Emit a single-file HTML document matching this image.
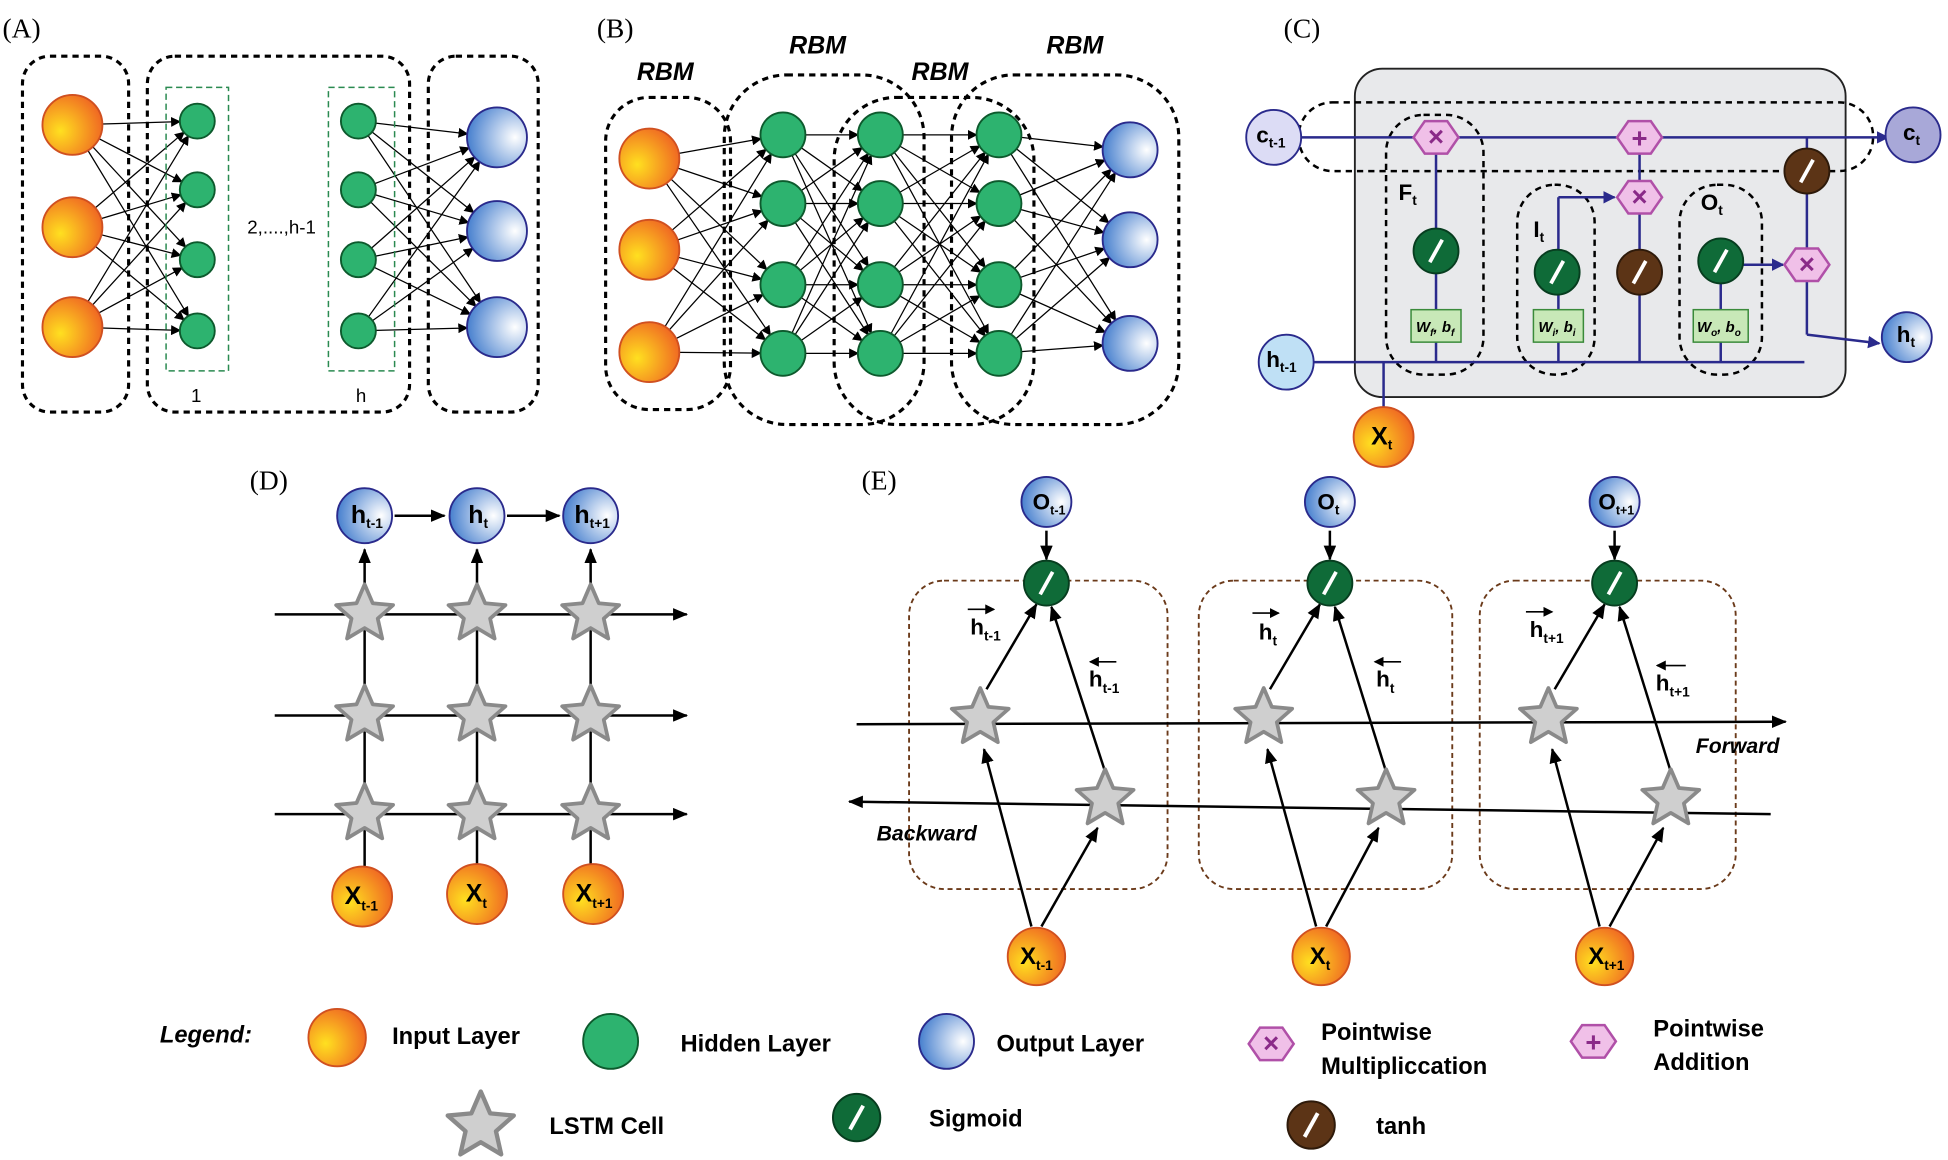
<!DOCTYPE html>
<html><head><meta charset="utf-8"><style>
html,body{margin:0;padding:0;background:#fff;}
svg{display:block;}
text{font-family:"Liberation Sans",sans-serif;}
.serif{font-family:"Liberation Serif",serif;font-size:22px;}
</style></head><body>
<svg id="s" width="1948" height="1160" viewBox="0 0 1560 929" preserveAspectRatio="none" xmlns="http://www.w3.org/2000/svg">
<defs>
<radialGradient id="gi" cx="0.3" cy="0.6" r="0.8"><stop offset="0" stop-color="#ffe020"/><stop offset="1" stop-color="#ee5a22"/></radialGradient>
<radialGradient id="go" cx="0.8" cy="0.5" r="0.9"><stop offset="0" stop-color="#ffffff"/><stop offset="1" stop-color="#2f6fc8"/></radialGradient>
<marker id="ar" markerWidth="8" markerHeight="8" refX="7" refY="4" orient="auto" markerUnits="userSpaceOnUse"><path d="M0,0 L8,4 L0,8 z" fill="#000"/></marker>
<marker id="ab" markerWidth="10" markerHeight="10" refX="9" refY="5" orient="auto" markerUnits="userSpaceOnUse"><path d="M0,0 L10,5 L0,10 z" fill="#2a2a8c"/></marker>
<marker id="ak" markerWidth="12" markerHeight="10" refX="11" refY="5" orient="auto" markerUnits="userSpaceOnUse"><path d="M0,0 L12,5 L0,10 z" fill="#000"/></marker>
<symbol id="star" viewBox="-25 -25 50 50" overflow="visible"><polygon points="0,-24 6.5,-8.9 22.8,-7.4 10.5,3.4 14.1,19.4 0,11 -14.1,19.4 -10.5,3.4 -22.8,-7.4 -6.5,-8.9" fill="#cfcfcf" stroke="#8a8a8a" stroke-width="3" stroke-linejoin="round"/></symbol>
<symbol id="sig" viewBox="-19 -19 38 38" overflow="visible"><circle r="18" fill="#0f6b38" stroke="#073d1f" stroke-width="1.5"/><line x1="-5" y1="9" x2="5" y2="-9" stroke="#fff" stroke-width="3"/></symbol>
<symbol id="tanh" viewBox="-19 -19 38 38" overflow="visible"><circle r="18" fill="#5c3416" stroke="#2e1a0a" stroke-width="1.5"/><line x1="-5" y1="9" x2="5" y2="-9" stroke="#fff" stroke-width="3"/></symbol>
<symbol id="mul" viewBox="-20 -14 40 28" overflow="visible"><polygon points="-18,0 -9,-13 9,-13 18,0 9,13 -9,13" fill="#f0c0e8" stroke="#b050a8" stroke-width="2"/><text x="0" y="7" text-anchor="middle" font-size="22" font-weight="bold" fill="#8a2a88">×</text></symbol>
<symbol id="add" viewBox="-20 -14 40 28" overflow="visible"><polygon points="-18,0 -9,-13 9,-13 18,0 9,13 -9,13" fill="#f0c0e8" stroke="#b050a8" stroke-width="2"/><text x="0" y="8" text-anchor="middle" font-size="22" font-weight="bold" fill="#8a2a88">+</text></symbol>
</defs>
<g id="lines" stroke="#000" stroke-width="1" fill="none"></g>

<text class="serif" x="2" y="30">(A)</text>
<g fill="none" stroke="#000" stroke-width="2.5" stroke-dasharray="5,4">
<rect x="18" y="45" width="85" height="285" rx="22"/>
<rect x="118" y="45" width="210" height="285" rx="22"/>
<rect x="343" y="45" width="88" height="285" rx="22"/>
</g>
<g fill="none" stroke="#2a8a50" stroke-width="1.2" stroke-dasharray="5,3">
<rect x="133" y="70" width="50" height="227"/>
<rect x="263" y="70" width="53" height="227"/>
</g>
<text x="198" y="187" font-size="15">2,....,h-1</text>
<text x="153" y="322" font-size="15">1</text>
<text x="285" y="322" font-size="15">h</text>

<text class="serif" x="478" y="30">(B)</text>
<g fill="none" stroke="#000" stroke-width="2.5" stroke-dasharray="5,4">
<rect x="485" y="78" width="100" height="250" rx="35"/>
<rect x="580" y="60" width="160" height="280" rx="50"/>
<rect x="668" y="78" width="160" height="262" rx="50"/>
<rect x="762" y="60" width="182" height="280" rx="50"/>
</g>
<g font-size="20" font-weight="bold" font-style="italic">
<text x="510" y="64">RBM</text><text x="632" y="43">RBM</text><text x="730" y="64">RBM</text><text x="838" y="43">RBM</text>
</g>

<text class="serif" x="1028" y="30">(C)</text>
<rect x="1085" y="55" width="393" height="263" rx="22" fill="#e8e9eb" stroke="#222" stroke-width="1.5"/>
<g fill="none" stroke="#000" stroke-width="2" stroke-dasharray="5,4">
<rect x="1040" y="82" width="460" height="55" rx="27"/>
<rect x="1110" y="92" width="78" height="208" rx="30"/>
<rect x="1215" y="148" width="62" height="152" rx="30"/>
<rect x="1345" y="148" width="66" height="152" rx="30"/>
</g>
<g stroke="#2a2a8c" stroke-width="2" fill="none">
<line x1="1042" y1="110" x2="1512" y2="110" marker-end="url(#ab)"/>
<line x1="1052" y1="290" x2="1445" y2="290"/>
<line x1="1108" y1="327" x2="1108" y2="290"/>
<line x1="1150" y1="290" x2="1150" y2="110"/>
<line x1="1248" y1="290" x2="1248" y2="158"/><line x1="1248" y1="158" x2="1293" y2="158" marker-end="url(#ab)"/>
<line x1="1313" y1="290" x2="1313" y2="110"/>
<line x1="1378" y1="290" x2="1378" y2="212"/><line x1="1378" y1="212" x2="1428" y2="212" marker-end="url(#ab)"/>
<line x1="1447" y1="110" x2="1447" y2="268"/><line x1="1447" y1="268" x2="1505" y2="275" marker-end="url(#ab)"/>
</g>
<use href="#mul" x="1130" y="96" width="40" height="28"/>
<use href="#add" x="1293" y="96" width="40" height="28"/>
<use href="#mul" x="1293" y="144" width="40" height="28"/>
<use href="#mul" x="1427" y="198" width="40" height="28"/>
<use href="#sig" x="1131" y="182" width="38" height="38"/>
<use href="#sig" x="1228" y="199" width="38" height="38"/>
<use href="#tanh" x="1294" y="199" width="38" height="38"/>
<use href="#sig" x="1359" y="190" width="38" height="38"/>
<use href="#tanh" x="1428" y="118" width="38" height="38"/>
<g fill="#c8e8b8" stroke="#3a8a3a" stroke-width="1.2">
<rect x="1130" y="248" width="40" height="26"/><rect x="1228" y="248" width="40" height="26"/><rect x="1356" y="248" width="44" height="26"/>
</g>
<g font-size="12" font-weight="bold" font-style="italic">
<text x="1134" y="266">W<tspan font-size="8" dy="3">f</tspan><tspan dy="-3">, b</tspan><tspan font-size="8" dy="3">f</tspan></text>
<text x="1232" y="266">W<tspan font-size="8" dy="3">i</tspan><tspan dy="-3">, b</tspan><tspan font-size="8" dy="3">i</tspan></text>
<text x="1359" y="266">W<tspan font-size="8" dy="3">o</tspan><tspan dy="-3">, b</tspan><tspan font-size="8" dy="3">o</tspan></text>
</g>
<g font-size="18" font-weight="bold">
<text x="1120" y="160">F<tspan font-size="11" dy="4">t</tspan></text>
<text x="1228" y="190">I<tspan font-size="11" dy="4">t</tspan></text>
<text x="1362" y="168">O<tspan font-size="11" dy="4">t</tspan></text>
</g>
<circle cx="1020" cy="110" r="22" fill="#dcdcf5" stroke="#2a2a8c" stroke-width="1.5"/>
<text x="1006" y="114" font-size="18" font-weight="bold">c<tspan font-size="11" dy="4">t-1</tspan></text>
<circle cx="1532" cy="108" r="22" fill="#a8a8d8" stroke="#2a2a8c" stroke-width="1.5"/>
<text x="1524" y="112" font-size="18" font-weight="bold">c<tspan font-size="11" dy="4">t</tspan></text>
<circle cx="1030" cy="290" r="22" fill="#bfe0f5" stroke="#2a2a8c" stroke-width="1.5"/>
<text x="1014" y="294" font-size="18" font-weight="bold">h<tspan font-size="11" dy="4">t-1</tspan></text>
<circle cx="1527" cy="270" r="20" fill="url(#go)" stroke="#2a2a8c" stroke-width="1.5"/>
<text x="1519" y="274" font-size="18" font-weight="bold">h<tspan font-size="11" dy="4">t</tspan></text>
<circle cx="1108" cy="350" r="24" fill="url(#gi)" stroke="#d05020" stroke-width="1.5"/>
<text x="1098" y="356" font-size="20" font-weight="bold">X<tspan font-size="11" dy="4">t</tspan></text>

<text class="serif" x="200" y="392">(D)</text>
<g stroke="#000" stroke-width="2" fill="none">
<line x1="316" y1="413" x2="356" y2="413" marker-end="url(#ak)"/>
<line x1="406" y1="413" x2="448" y2="413" marker-end="url(#ak)"/>
<line x1="220" y1="492" x2="550" y2="492" marker-end="url(#ak)"/>
<line x1="220" y1="573" x2="550" y2="573" marker-end="url(#ak)"/>
<line x1="220" y1="652" x2="550" y2="652" marker-end="url(#ak)"/>
<line x1="292" y1="695" x2="292" y2="440" marker-end="url(#ak)"/>
<line x1="382" y1="693" x2="382" y2="440" marker-end="url(#ak)"/>
<line x1="473" y1="693" x2="473" y2="440" marker-end="url(#ak)"/>
</g>
<use href="#star" x="267" y="467" width="50" height="50"/><use href="#star" x="357" y="467" width="50" height="50"/><use href="#star" x="448" y="467" width="50" height="50"/>
<use href="#star" x="267" y="548" width="50" height="50"/><use href="#star" x="357" y="548" width="50" height="50"/><use href="#star" x="448" y="548" width="50" height="50"/>
<use href="#star" x="267" y="627" width="50" height="50"/><use href="#star" x="357" y="627" width="50" height="50"/><use href="#star" x="448" y="627" width="50" height="50"/>
<g stroke="#2a2a8c" stroke-width="1.5">
<circle cx="292" cy="413" r="22" fill="url(#go)"/><circle cx="382" cy="413" r="22" fill="url(#go)"/><circle cx="473" cy="413" r="22" fill="url(#go)"/>
</g>
<g font-size="20" font-weight="bold">
<text x="281" y="419">h<tspan font-size="11" dy="4">t-1</tspan></text>
<text x="375" y="419">h<tspan font-size="11" dy="4">t</tspan></text>
<text x="460" y="419">h<tspan font-size="11" dy="4">t+1</tspan></text>
</g>
<g stroke="#d05020" stroke-width="1.5">
<circle cx="290" cy="718" r="24" fill="url(#gi)"/><circle cx="382" cy="716" r="24" fill="url(#gi)"/><circle cx="475" cy="716" r="24" fill="url(#gi)"/>
</g>
<g font-size="20" font-weight="bold">
<text x="276" y="724">X<tspan font-size="11" dy="5">t-1</tspan></text>
<text x="373" y="722">X<tspan font-size="11" dy="5">t</tspan></text>
<text x="461" y="722">X<tspan font-size="11" dy="5">t+1</tspan></text>
</g>

<text class="serif" x="690" y="392">(E)</text>
<g fill="none" stroke="#6b3a1a" stroke-width="1.5" stroke-dasharray="4,3">
<rect x="728" y="465" width="207" height="247" rx="28"/>
<rect x="960" y="465" width="203" height="247" rx="28"/>
<rect x="1185" y="465" width="205" height="247" rx="28"/>
</g>
<g stroke="#000" stroke-width="2" fill="none">
<line x1="686" y1="580" x2="1430" y2="578" marker-end="url(#ak)"/>
<line x1="1418" y1="652" x2="680" y2="642" marker-end="url(#ak)"/>
</g>
<g stroke="#000" stroke-width="2" fill="none" id="econ"></g>
<text x="1358" y="603" font-size="17" font-weight="bold" font-style="italic">Forward</text>
<text x="702" y="673" font-size="17" font-weight="bold" font-style="italic">Backward</text>
<g id="estars"></g>
<g id="elabels" font-size="18" font-weight="bold">
<text x="827" y="408">O<tspan font-size="10" dy="4">t-1</tspan></text>
<text x="1055" y="408">O<tspan font-size="11" dy="4">t</tspan></text>
<text x="1280" y="408">O<tspan font-size="10" dy="4">t+1</tspan></text>
<text x="777" y="508">h<tspan font-size="11" dy="5">t-1</tspan></text>
<text x="1008" y="512">h<tspan font-size="11" dy="5">t</tspan></text>
<text x="1225" y="510">h<tspan font-size="11" dy="5">t+1</tspan></text>
<text x="872" y="550">h<tspan font-size="11" dy="5">t-1</tspan></text>
<text x="1102" y="550">h<tspan font-size="11" dy="5">t</tspan></text>
<text x="1326" y="553">h<tspan font-size="11" dy="5">t+1</tspan></text>
<text x="817" y="772" font-size="19">X<tspan font-size="11" dy="5">t-1</tspan></text>
<text x="1049" y="772" font-size="19">X<tspan font-size="11" dy="5">t</tspan></text>
<text x="1272" y="772" font-size="19">X<tspan font-size="11" dy="5">t+1</tspan></text>
</g>
<g stroke="#000" stroke-width="1.3" fill="none">
<line x1="775" y1="488" x2="796" y2="488" marker-end="url(#ar)"/>
<line x1="1003" y1="491" x2="1024" y2="491" marker-end="url(#ar)"/>
<line x1="1222" y1="490" x2="1243" y2="490" marker-end="url(#ar)"/>
<line x1="894" y1="530" x2="873" y2="530" marker-end="url(#ar)"/>
<line x1="1122" y1="530" x2="1101" y2="530" marker-end="url(#ar)"/>
<line x1="1350" y1="533" x2="1327" y2="533" marker-end="url(#ar)"/>
</g>

<text x="128" y="835" font-size="19" font-weight="bold" font-style="italic">Legend:</text>
<circle cx="270" cy="831" r="23" fill="url(#gi)" stroke="#d05020" stroke-width="1.5"/>
<text x="314" y="836" font-size="19" font-weight="bold">Input Layer</text>
<circle cx="489" cy="834" r="22" fill="#2db36f" stroke="#0d5a2d" stroke-width="1.5"/>
<text x="545" y="842" font-size="19" font-weight="bold">Hidden Layer</text>
<circle cx="758" cy="834" r="22" fill="url(#go)" stroke="#2a2a8c" stroke-width="1.5"/>
<text x="798" y="842" font-size="19" font-weight="bold">Output Layer</text>
<use href="#mul" x="998" y="822" width="40" height="28"/>
<text x="1058" y="833" font-size="19" font-weight="bold">Pointwise</text>
<text x="1058" y="860" font-size="19" font-weight="bold">Multipliccation</text>
<use href="#add" x="1256" y="820" width="40" height="28"/>
<text x="1324" y="830" font-size="19" font-weight="bold">Pointwise</text>
<text x="1324" y="857" font-size="19" font-weight="bold">Addition</text>
<use href="#star" x="356" y="873" width="58" height="58"/>
<text x="440" y="908" font-size="19" font-weight="bold">LSTM Cell</text>
<use href="#sig" x="666" y="875" width="40" height="40"/>
<text x="744" y="902" font-size="19" font-weight="bold">Sigmoid</text>
<use href="#tanh" x="1030" y="881" width="40" height="40"/>
<text x="1102" y="908" font-size="19" font-weight="bold">tanh</text>
<g id="top"></g>
</svg>
<script>
(function(){
var NS="http://www.w3.org/2000/svg";
function el(p,t,a){var e=document.createElementNS(NS,t);for(var k in a)e.setAttribute(k,a[k]);p.appendChild(e);return e;}
var L=document.getElementById('lines'), T=document.getElementById('top');
function conn(A,B,r1,r2){A.forEach(function(a){B.forEach(function(b){var dx=b[0]-a[0],dy=b[1]-a[1],d=Math.sqrt(dx*dx+dy*dy);
el(L,'line',{x1:a[0]+dx/d*r1,y1:a[1]+dy/d*r1,x2:b[0]-dx/d*r2,y2:b[1]-dy/d*r2,'marker-end':'url(#ar)'});});});}
function circ(p,arr,r,fill,stroke){arr.forEach(function(c){el(p,'circle',{cx:c[0],cy:c[1],r:r,fill:fill,stroke:stroke,'stroke-width':1.5});});}
var aI=[[58,100],[58,182],[58,262]], aH1=[[158,97],[158,152],[158,208],[158,265]], aH2=[[287,97],[287,152],[287,208],[287,265]], aO=[[398,110],[398,185],[398,262]];
conn(aI,aH1,24,14);conn(aH2,aO,14,24);
circ(T,aI,24,'url(#gi)','#d05020');circ(T,aH1,14,'#2db36f','#0d5a2d');circ(T,aH2,14,'#2db36f','#0d5a2d');circ(T,aO,24,'url(#go)','#2a2a8c');
var bI=[[520,127],[520,200],[520,282]];
function col(x){return [[x,108],[x,163],[x,228],[x,283]];}
var b1=col(627),b2=col(705),b3=col(800),bO=[[905,120],[905,192],[905,275]];
conn(bI,b1,24,18);conn(b1,b2,18,18);conn(b2,b3,18,18);conn(b3,bO,18,22);
circ(T,bI,24,'url(#gi)','#d05020');[b1,b2,b3].forEach(function(c){circ(T,c,18,'#2db36f','#0d5a2d');});circ(T,bO,22,'url(#go)','#2a2a8c');
var E=document.getElementById('econ'), S=document.getElementById('estars');
var cols=[[838,785,885,830],[1065,1012,1110,1058],[1293,1240,1338,1285]];
cols.forEach(function(c){
 var sx=c[0],ts=c[1],bs=c[2],xx=c[3];
 el(E,'line',{x1:sx,y1:425,x2:sx,y2:448,'marker-end':'url(#ak)'});
 el(E,'line',{x1:ts+5,y1:552,x2:sx-8,y2:484,'marker-end':'url(#ak)'});
 el(E,'line',{x1:bs,y1:618,x2:sx+4,y2:486,'marker-end':'url(#ak)'});
 el(E,'line',{x1:xx-4,y1:742,x2:ts+3,y2:600,'marker-end':'url(#ak)'});
 el(E,'line',{x1:xx+4,y1:742,x2:bs-6,y2:663,'marker-end':'url(#ak)'});
 el(S,'use',{href:'#star',x:ts-25,y:550,width:50,height:50});
 el(S,'use',{href:'#star',x:bs-25,y:615,width:50,height:50});
 el(S,'circle',{cx:sx,cy:402,r:20,fill:'url(#go)',stroke:'#2a2a8c','stroke-width':1.5});
 el(S,'use',{href:'#sig',x:sx-19,y:448,width:38,height:38});
 el(S,'circle',{cx:xx,cy:766,r:23,fill:'url(#gi)',stroke:'#d05020','stroke-width':1.5});
});
})();
</script>
</body></html>
